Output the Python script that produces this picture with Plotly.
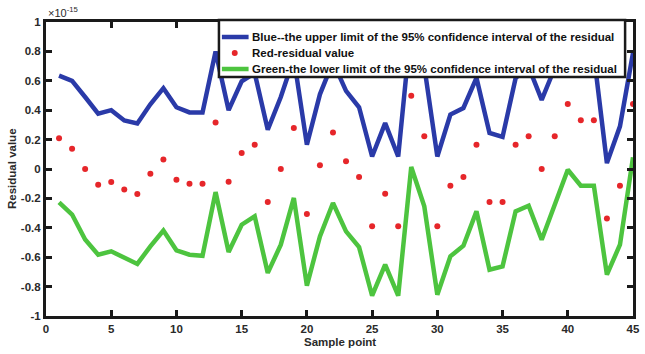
import plotly.graph_objects as go

sample_points = list(range(1, 46))
upper_limit = [0.635, 0.60, 0.49, 0.376, 0.40, 0.33, 0.31, 0.44, 0.55, 0.42, 0.385, 0.385, 0.80, 0.40,
               0.597, 0.652, 0.267, 0.49, 0.755, 0.165, 0.508, 0.729, 0.532, 0.42, 0.085, 0.312, 0.085,
               0.984, 0.698, 0.085, 0.37, 0.415, 0.62, 0.245, 0.218, 0.618, 0.694, 0.47, 0.687, 0.889,
               0.776, 0.776, 0.04, 0.29, 0.79]
residual = [0.21, 0.138, 0.0, -0.107, -0.089, -0.14, -0.17, -0.032, 0.065, -0.073, -0.1, -0.1, 0.317,
            -0.086, 0.109, 0.165, -0.225, 0.0, 0.279, -0.306, 0.026, 0.249, 0.052, -0.054, -0.39, -0.168,
            -0.39, 0.499, 0.222, -0.39, -0.114, -0.054, 0.165, -0.225, -0.225, 0.165, 0.222, 0.0, 0.222,
            0.442, 0.331, 0.331, -0.336, -0.114, 0.442]
lower_limit = [-0.227, -0.31, -0.48, -0.583, -0.56, -0.605, -0.646, -0.526, -0.418, -0.553, -0.583, -0.59,
               -0.157, -0.565, -0.379, -0.322, -0.707, -0.515, -0.197, -0.794, -0.458, -0.231, -0.424,
               -0.531, -0.862, -0.651, -0.862, 0.014, -0.254, -0.855, -0.594, -0.522, -0.288, -0.685,
               -0.662, -0.288, -0.25, -0.481, -0.243, -0.005, -0.114, -0.114, -0.719, -0.515, 0.08]

series_names = ["Blue--the upper limit of the 95% confidence interval of the residual",
                "Red-residual value",
                "Green-the lower limit of the 95% confidence interval of the residual"]

x_ticks = [0, 5, 10, 15, 20, 25, 30, 35, 40, 45]
y_ticks = [-1, -0.8, -0.6, -0.4, -0.2, 0, 0.2, 0.4, 0.6, 0.8, 1]
y_tick_labels = ["-1", "-0.8", "-0.6", "-0.4", "-0.2", "0", "0.2", "0.4", "0.6", "0.8", "1"]

BLUE = "#2a3aa8"
RED = "#e6262a"
GREEN = "#4dc43f"
TXT = "#2a2a2a"
FONT = "Liberation Sans"

W, H = 645, 354
ML, MR, MT, MB = 46, 5, 22, 38
PW, PH = W - ML - MR, H - MT - MB


def px_x(px):
    return (px - ML) / PW


def px_y(py):
    return (H - MB - py) / PH


fig = go.Figure()
fig.add_trace(go.Scatter(x=sample_points, y=upper_limit, mode="lines",
                         line=dict(color=BLUE, width=4.5), name=series_names[0],
                         cliponaxis=False, showlegend=False))
fig.add_trace(go.Scatter(x=sample_points, y=residual, mode="markers",
                         marker=dict(color=RED, size=6), name=series_names[1],
                         cliponaxis=False, showlegend=False))
fig.add_trace(go.Scatter(x=sample_points, y=lower_limit, mode="lines",
                         line=dict(color=GREEN, width=4.5), name=series_names[2],
                         cliponaxis=False, showlegend=False))

axis_common = dict(showgrid=False, zeroline=False, showline=True, linecolor="#1a1a1a", linewidth=3,
                   mirror="ticks", ticks="inside", ticklen=6, tickwidth=3, tickcolor="#1a1a1a",
                   tickfont=dict(family=FONT, size=11.5, color=TXT, weight="bold"))

# legend box drawn as shapes + annotations (compact, like the original)
box_l, box_r, box_t, box_b = 221, 632, 20, 77
row_y = [37, 53, 69]
shapes = [dict(type="rect", xref="paper", yref="paper", layer="above",
               x0=px_x(box_l), x1=px_x(box_r), y0=px_y(box_b), y1=px_y(box_t),
               fillcolor="white", line=dict(color="#1a1a1a", width=2.5))]
shapes.append(dict(type="line", xref="paper", yref="paper", layer="above",
                   x0=px_x(224), x1=px_x(251), y0=px_y(row_y[0]), y1=px_y(row_y[0]),
                   line=dict(color=BLUE, width=4.5)))
shapes.append(dict(type="circle", xref="paper", yref="paper", layer="above",
                   x0=px_x(234), x1=px_x(240), y0=px_y(row_y[1] + 3), y1=px_y(row_y[1] - 3),
                   fillcolor=RED, line=dict(color=RED, width=0)))
shapes.append(dict(type="line", xref="paper", yref="paper", layer="above",
                   x0=px_x(224), x1=px_x(251), y0=px_y(row_y[2]), y1=px_y(row_y[2]),
                   line=dict(color=GREEN, width=4.5)))

annotations = [
    dict(text="×10<sup>-15</sup>", x=0, y=1, xref="paper", yref="paper", xanchor="left",
         yanchor="bottom", showarrow=False, yshift=1,
         font=dict(family=FONT, size=11, color=TXT)),
    dict(text="<b>Sample point</b>", x=0.5, y=0, xref="paper", yref="paper", xanchor="center",
         yanchor="top", yshift=-18, showarrow=False,
         font=dict(family=FONT, size=11.5, color=TXT)),
    dict(text="<b>Residual value</b>", x=0, y=0.5, xref="paper", yref="paper", xanchor="center",
         yanchor="middle", xshift=-34, textangle=-90, showarrow=False,
         font=dict(family=FONT, size=11.5, color=TXT)),
]
for name, ry in zip(series_names, row_y):
    annotations.append(dict(text="<b>" + name + "</b>", x=px_x(252), y=px_y(ry), xref="paper",
                            yref="paper", xanchor="left", yanchor="middle", showarrow=False,
                            font=dict(family=FONT, size=11.5, color="#111")))

fig.update_layout(
    width=W, height=H,
    margin=dict(l=ML, r=MR, t=MT, b=MB),
    paper_bgcolor="white", plot_bgcolor="white",
    font=dict(family=FONT, color=TXT),
    xaxis=dict(range=[0, 45], tickvals=x_ticks, **axis_common),
    yaxis=dict(range=[-1, 1], tickvals=y_ticks, ticktext=y_tick_labels, **axis_common),
    showlegend=False,
    shapes=shapes,
    annotations=annotations,
)

fig.write_html("out.html", config={"displayModeBar": False},
               post_script="document.body.style.margin='0';document.body.style.overflow='hidden';")
